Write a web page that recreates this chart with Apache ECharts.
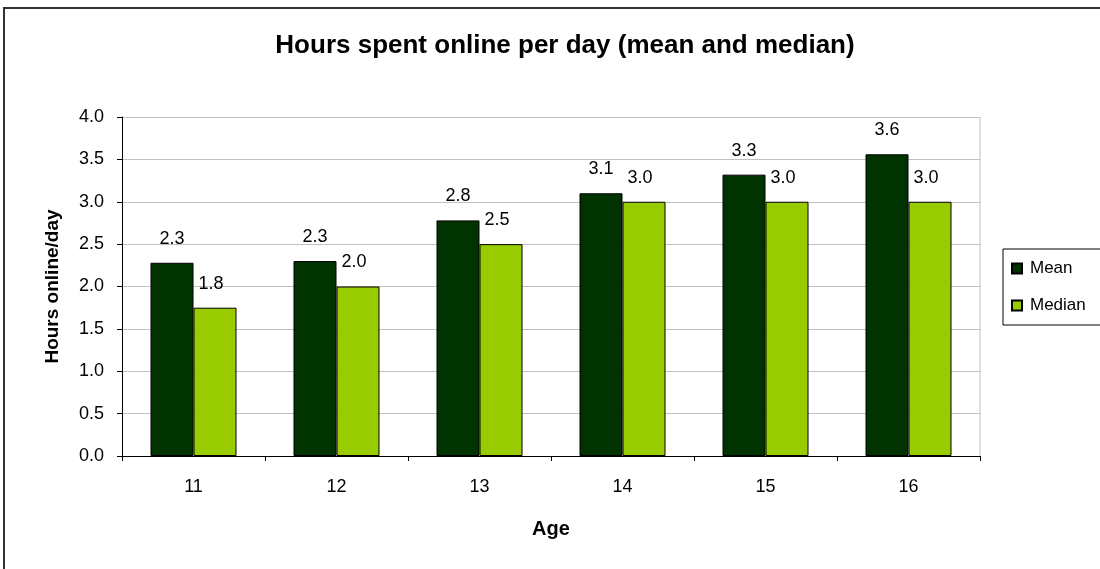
<!DOCTYPE html>
<html>
<head>
<meta charset="utf-8">
<script src="https://cdn.jsdelivr.net/npm/echarts@6/dist/echarts.min.js"></script>
<style>
  html, body { margin: 0; padding: 0; background: #fff; }
  #chart { width: 1100px; height: 569px; }
</style>
</head>
<body>
<div id="chart"></div>
<script>
const ages = ['11', '12', '13', '14', '15', '16'];
const meanHours = [2.28, 2.3, 2.78, 3.1, 3.32, 3.56];
const medianHours = [1.75, 2.0, 2.5, 3.0, 3.0, 3.0];

const chart = echarts.init(document.getElementById('chart'));
const font = 'Arial, "Liberation Sans", sans-serif';
const fmt = p => (Math.round(p.value * 10) / 10).toFixed(1);

chart.setOption({
  animation: false,
  textStyle: { fontFamily: font },
  title: {
    text: 'Hours spent online per day (mean and median)',
    left: 560,
    top: 28,
    textAlign: 'center',
    textStyle: { fontSize: 26, fontWeight: 'bold', color: '#000' }
  },
  legend: {
    orient: 'vertical',
    left: 1003,
    top: 249,
    itemWidth: 10,
    itemHeight: 10,
    itemGap: 20,
    padding: [11, 30, 11, 8],
    borderColor: '#000',
    borderWidth: 1,
    icon: 'rect',
    textStyle: { fontSize: 17, color: '#000', padding: [0, 0, 0, 3] },
    data: ['Mean', 'Median']
  },
  grid: { left: 122, right: 120, top: 117, bottom: 113 },
  xAxis: {
    type: 'category',
    data: ages,
    name: 'Age',
    nameLocation: 'middle',
    nameGap: 63,
    nameTextStyle: { fontSize: 20, fontWeight: 'bold', color: '#000' },
    axisLine: { lineStyle: { color: '#000' } },
    axisTick: { show: true, length: 5, lineStyle: { color: '#000' } },
    axisLabel: { fontSize: 18, color: '#000', margin: 22 }
  },
  yAxis: {
    type: 'value',
    min: 0,
    max: 4,
    interval: 0.5,
    name: 'Hours online/day',
    nameLocation: 'middle',
    nameGap: 60,
    nameTextStyle: { fontSize: 19, fontWeight: 'bold', color: '#000' },
    axisLine: { show: true, lineStyle: { color: '#000' } },
    axisTick: { show: true, length: 5, lineStyle: { color: '#000' } },
    axisLabel: { fontSize: 18, color: '#000', margin: 18, formatter: v => v.toFixed(1) },
    splitLine: { lineStyle: { color: '#c0c0c0' } }
  },
  series: [{
    name: 'Mean',
    type: 'bar',
    data: meanHours,
    barWidth: 43,
    barGap: '0%',
    itemStyle: { color: '#003300', borderColor: '#000', borderWidth: 1 },
    label: { show: true, position: 'top', distance: 15, fontSize: 18, color: '#000', formatter: fmt }
  }, {
    name: 'Median',
    type: 'bar',
    data: medianHours,
    barWidth: 43,
    itemStyle: { color: '#99cc00', borderColor: '#000', borderWidth: 1 },
    label: { show: true, position: 'top', distance: 15, offset: [-4, 0], fontSize: 18, color: '#000', formatter: fmt }
  }]
});

// outer chart border and right border of the plot area
const rect = chart.getModel().getComponent('grid').coordinateSystem.getRect();
chart.setOption({
  graphic: [{
    type: 'rect',
    shape: { x: 4, y: 8, width: 1200, height: 700 },
    style: { fill: 'none', stroke: '#333', lineWidth: 2 },
    silent: true
  }, {
    type: 'line',
    shape: { x1: rect.x + rect.width, y1: rect.y, x2: rect.x + rect.width, y2: rect.y + rect.height },
    style: { stroke: '#c0c0c0', lineWidth: 1 },
    silent: true
  }]
});
</script>
</body>
</html>
